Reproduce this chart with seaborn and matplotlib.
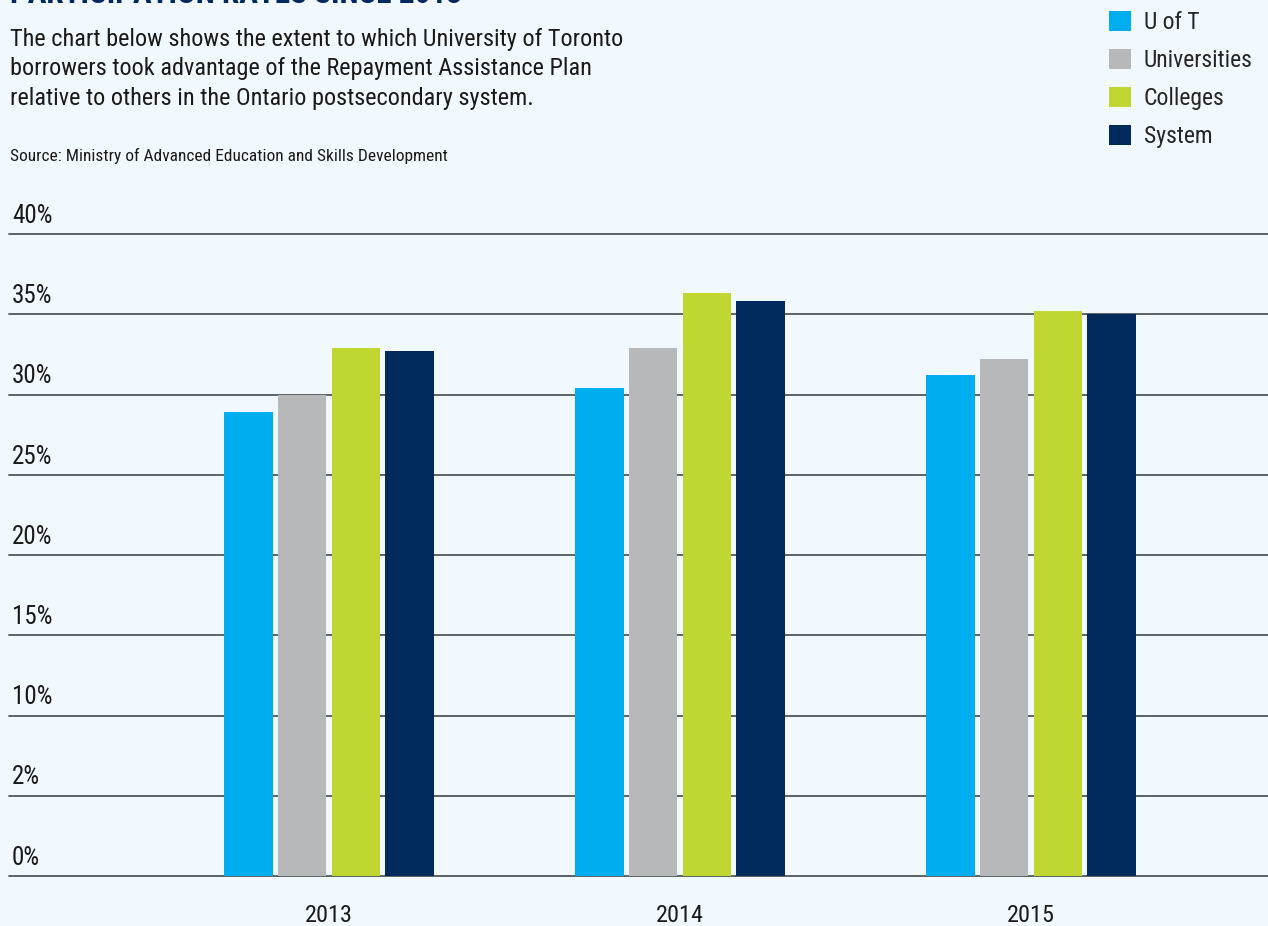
import matplotlib
matplotlib.use("Agg")
import matplotlib.pyplot as plt
import matplotlib.transforms as mtrans
from matplotlib import font_manager as fm
import seaborn as sns
import pandas as pd

# ---- data ----
years = ["2013", "2014", "2015"]
groups = ["U of T", "Universities", "Colleges", "System"]
uoft = [28.9, 30.4, 31.2]
universities = [30.0, 32.9, 32.2]
colleges = [32.9, 36.3, 35.2]
system = [32.7, 35.8, 35.0]
tick_values = [0, 5, 10, 15, 20, 25, 30, 35, 40]
tick_labels = ["0%", "2%", "10%", "15%", "20%", "25%", "30%", "35%", "40%"]
colors = ["#00aeef", "#b7b8ba", "#c1d731", "#002a5c"]

title = "PARTICIPATION RATES SINCE 2013"
desc = ("The chart below shows the extent to which University of Toronto\n"
        "borrowers took advantage of the Repayment Assistance Plan\n"
        "relative to others in the Ontario postsecondary system.")
source = "Source: Ministry of Advanced Education and Skills Development"

rows = []
for g, vals in zip(groups, [uoft, universities, colleges, system]):
    for y, v in zip(years, vals):
        rows.append({"year": y, "group": g, "value": v})
df = pd.DataFrame(rows)

sns.set_theme(style="white")

# pick a condensed font if one is installed
names = {f.name for f in fm.fontManager.ttflist}
chosen = None
for cand in ["Liberation Sans Narrow", "Roboto Condensed", "Open Sans Condensed",
             "DejaVu Sans Condensed"]:
    if cand in names:
        chosen = cand
        break
if chosen:
    plt.rcParams["font.family"] = [chosen, "DejaVu Sans"]
else:
    plt.rcParams["font.family"] = ["DejaVu Sans"]
    plt.rcParams["font.stretch"] = "condensed"

BG = "#f1f8fe"
W, H = 1268, 926
fig = plt.figure(figsize=(W / 100, H / 100), dpi=100, facecolor=BG)
ax = fig.add_axes([9 / W, 1 - 876 / H, 1 - 9 / W, (876 - 234) / H])
ax.set_facecolor(BG)

sns.barplot(data=df, x="year", y="value", hue="group", hue_order=groups,
            order=years, palette=colors, saturation=1, width=0.612, gap=0.1,
            linewidth=0, ax=ax, zorder=3)

handles, labels = ax.get_legend_handles_labels()
if ax.get_legend() is not None:
    ax.get_legend().remove()

ax.set_ylim(0, 40)
ax.set_xlim(-0.912, 2.675)
for s in ax.spines.values():
    s.set_visible(False)
ax.set_yticks([])
ax.set_xlabel("")
ax.set_ylabel("")
ax.tick_params(axis="x", length=0, pad=20, labelsize=17.5, labelcolor="#1a1a1a")

for v in tick_values:
    ax.axhline(v, color="#5b6367", lw=1.4, zorder=1, clip_on=False)

trans = mtrans.blended_transform_factory(ax.transAxes, ax.transData)
offset = mtrans.ScaledTranslation(0, 4.5 / 72, fig.dpi_scale_trans)
for v, lab in zip(tick_values, tick_labels):
    ax.text(3 / W, v, lab, transform=trans + offset, ha="left", va="bottom",
            fontsize=18, color="#1a1a1a")

fig.text(10 / W, 1 - 9 / H, title, ha="left", va="bottom", fontsize=22.5,
         fontweight="bold", color="#00285e")
fig.text(10 / W, 1 - 28 / H, desc, ha="left", va="top", fontsize=17.5,
         color="#1a1a1a", linespacing=1.36)
fig.text(10 / W, 1 - 156 / H, source, ha="left", va="center", fontsize=12.5,
         color="#1a1a1a")

fig.legend(handles, labels, loc="upper left",
           bbox_to_anchor=(1097 / W, 1 + 1 / H), frameon=False, fontsize=17,
           handlelength=0.92, handleheight=0.92, labelspacing=0.64,
           handletextpad=0.55, borderpad=0.0)

fig.savefig("out.png", dpi=100, facecolor=BG)
